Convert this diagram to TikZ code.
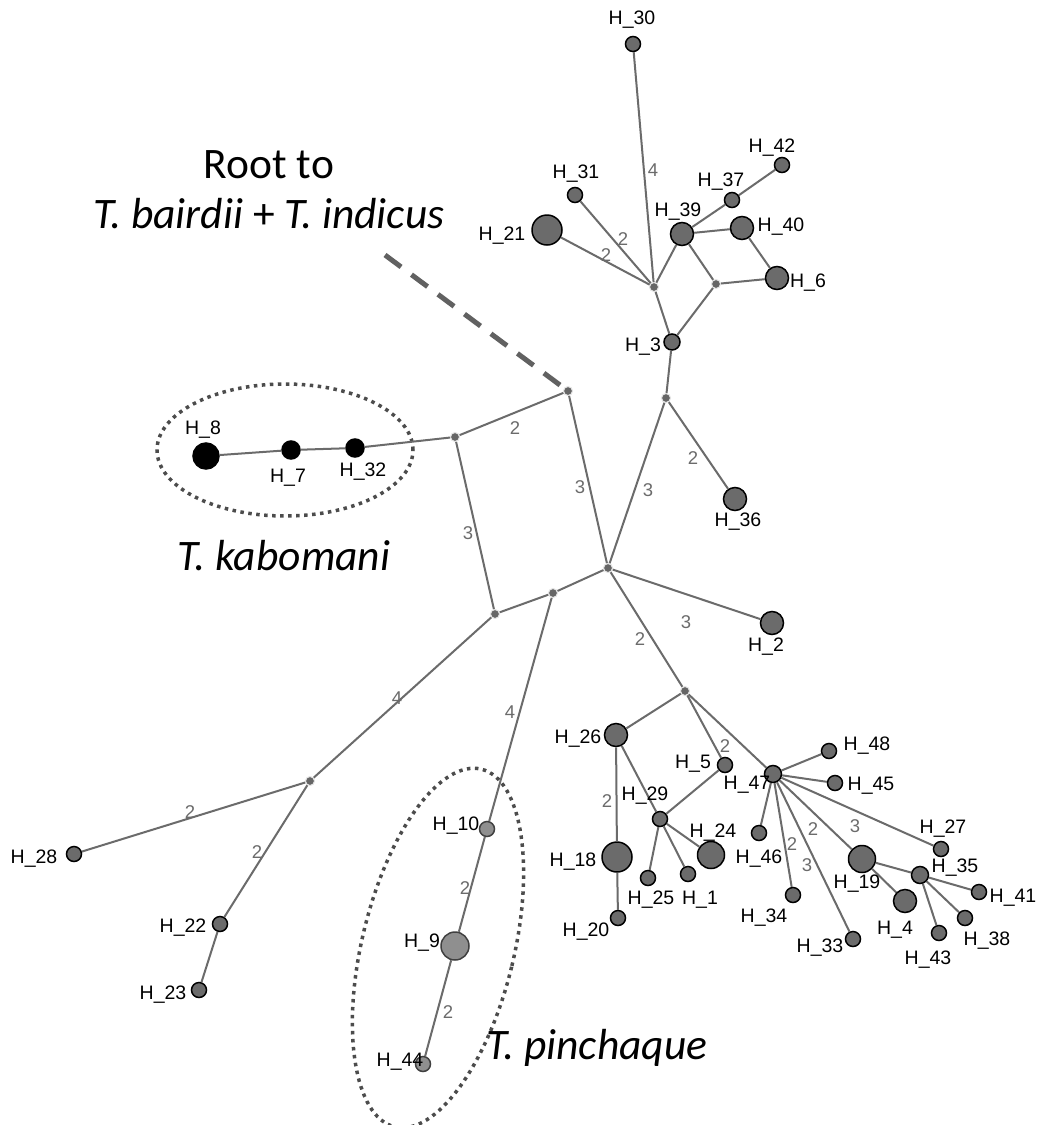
\documentclass[tikz,border=0pt]{standalone}
\usepackage{fontspec}
\setmainfont{Carlito}
\newfontfamily\labfont{Liberation Sans}

\definecolor{hapgrey}{gray}{0.42}
\definecolor{pingrey}{gray}{0.56}
\definecolor{linegrey}{gray}{0.42}
\definecolor{dotgrey}{gray}{0.3}

\tikzset{
	hap/.style={circle, draw=black, fill=hapgrey, line width=1.5pt, inner sep=0pt, minimum size=15pt},
	hm/.style={hap, minimum size=23pt},
	hb/.style={hap, minimum size=27pt},
	hl/.style={hap, minimum size=30pt},
	kab/.style={hap, fill=black, minimum size=18pt},
	pin/.style={hap, draw=black!75, fill=pingrey},
	med/.style={circle, draw=white!80!gray, fill=black!60, line width=1pt, inner sep=0pt, minimum size=9pt},
	edge/.style={draw=linegrey, line width=2pt},
	lab/.style={font=\labfont\fontsize{19.5}{21}\selectfont, inner sep=0pt},
	elab/.style={font=\labfont\fontsize{18.5}{20}\selectfont, text=linegrey, inner sep=0pt},
	group/.style={draw=dotgrey, line width=3.5pt, dash pattern=on 3.5pt off 4.5pt},
	rootline/.style={draw=black!62, line width=5pt, dash pattern=on 20pt off 13pt},
	species/.style={font=\fontsize{43.5}{50}\selectfont, inner sep=0pt, align=center}
}

\begin{document}
\begin{tikzpicture}[x=1pt, y=-1pt]
	\fill[white] (0,0) rectangle (1037,1125);
	\useasboundingbox (0,0) rectangle (1037,1125);

	% species groups
	\draw[group] (285,450) ellipse [x radius=128pt, y radius=66pt];
	\draw[group, rotate around={-13.6:(438,948)}] (438,948) ellipse [x radius=76pt, y radius=184pt];

	% median vectors
	\node[med] (mA) at (654,287) {};
	\node[med] (mB) at (716,284) {};
	\node[med] (mC) at (666,398) {};
	\node[med] (mD) at (568,391) {};
	\node[med] (mE) at (455,437) {};
	\node[med] (mF) at (608,568) {};
	\node[med] (mG) at (553,593) {};
	\node[med] (mH) at (495,614) {};
	\node[med] (mI) at (685,691) {};
	\node[med] (mJ) at (310,781) {};

	% haplotypes
	\node[hap] (h30) at (633,44) {};
	\node[hap] (h31) at (575,195) {};
	\node[hl] (h21) at (547,230) {};
	\node[hm] (h39) at (682,234) {};
	\node[hap] (h37) at (732,200) {};
	\node[hap] (h42) at (782,165) {};
	\node[hm] (h40) at (742,228) {};
	\node[hm] (h6) at (777,278) {};
	\node[hap, minimum size=16pt] (h3) at (672,342) {};
	\node[hm] (h36) at (735,499) {};
	\node[hm] (h2) at (772,623) {};
	\node[kab] (h32) at (355,448) {};
	\node[kab] (h7) at (291,450) {};
	\node[kab, minimum size=26pt] (h8) at (206,456) {};
	\node[hap] (h28) at (74,854) {};
	\node[hap] (h22) at (220,924) {};
	\node[hap] (h23) at (199,990) {};
	\node[pin] (h10) at (487,829) {};
	\node[pin, minimum size=28pt] (h9) at (455,946) {};
	\node[pin] (h44) at (423,1064) {};
	\node[hm] (h26) at (616,735) {};
	\node[hap] (h5) at (725,765) {};
	\node[hap, minimum size=17pt] (h47) at (773,774) {};
	\node[hap] (h29) at (660,819) {};
	\node[hb] (h24) at (711,855) {};
	\node[hl] (h18) at (617,857) {};
	\node[hap] (h25) at (648,878) {};
	\node[hap] (h1) at (688,874) {};
	\node[hap] (h20) at (618,918) {};
	\node[hap] (h46) at (759,833) {};
	\node[hap] (h34) at (793,895) {};
	\node[hap] (h33) at (853,939) {};
	\node[hap] (h48) at (829,751) {};
	\node[hap] (h45) at (835,783) {};
	\node[hap] (h27) at (941,849) {};
	\node[hb] (h19) at (862,859) {};
	\node[hap, minimum size=17pt] (h35) at (920,875) {};
	\node[hm] (h4) at (905,901) {};
	\node[hap] (h41) at (979,892) {};
	\node[hap] (h38) at (965,918) {};
	\node[hap] (h43) at (939,933) {};

	% connections
	\foreach \a/\b in {mA/h30, mA/h31, mA/h21, mA/h39, mA/h3, h39/h37, h37/h42, h39/h40,
		h40/h6, h39/mB, mB/h6, mB/h3, h3/mC, mC/h36, mC/mF, mD/mE, mD/mF, mE/h32,
		h32/h7, h7/h8, mE/mH, mH/mG, mG/mF, mF/h2, mF/mI, mH/mJ, mJ/h28, mJ/h22,
		h22/h23, mG/h10, h10/h9, h9/h44, mI/h26, mI/h5, mI/h47, h26/h18, h18/h20,
		h26/h29, h29/h5, h29/h25, h29/h1, h29/h24, h47/h48, h47/h45, h47/h46,
		h47/h34, h47/h33, h47/h19, h47/h27, h19/h4, h19/h35, h35/h41, h35/h38, h35/h43}
		\draw[edge] (\a) -- (\b);

	% root
	\coordinate (rootend) at (385,255);
	\draw[rootline] (rootend) -- (mD);

	% mutation steps
	\foreach \p/\n in {{(653,170)}/4, {(623,239)}/2, {(606,255)}/2, {(693,458)}/2,
		{(515,428)}/2, {(580,487)}/3, {(648,490)}/3, {(468,533)}/3, {(686,622)}/3,
		{(640,639)}/2, {(397,698)}/4, {(510,712)}/4, {(190,812)}/2, {(257,852)}/2,
		{(465,888)}/2, {(448,1012)}/2, {(725,746)}/2, {(607,801)}/2, {(792,844)}/2,
		{(807,865)}/3, {(813,829)}/2, {(855,826)}/3}
		\node[elab] at \p {\n};

	% haplotype names
	\foreach \p/\t in {{(632,20)}/30, {(576,174)}/31, {(502,236)}/21, {(678,212)}/39,
		{(721,182)}/37, {(772,148)}/42, {(781,227)}/40, {(808,283)}/6, {(643,347)}/3,
		{(738,522)}/36, {(363,472)}/32, {(288,478)}/7, {(203,430)}/8, {(766,647)}/2,
		{(34,859)}/28, {(183,928)}/22, {(163,995)}/23, {(456,826)}/10, {(422,943)}/9,
		{(400,1062)}/44, {(578,739)}/26, {(693,764)}/5, {(747,785)}/47, {(645,796)}/29,
		{(713,833)}/24, {(573,862)}/18, {(651,900)}/25, {(700,900)}/1, {(586,932)}/20,
		{(759,859)}/46, {(764,918)}/34, {(820,948)}/33, {(867,746)}/48, {(871,786)}/45,
		{(943,829)}/27, {(857,884)}/19, {(955,868)}/35, {(895,930)}/4, {(1013,898)}/41,
		{(987,941)}/38, {(928,960)}/43}
		\node[lab] (l\t) at \p {H\_\t};

	% species names
	\node[species] (root) at (269,190) {Root to\\ \itshape T. bairdii {\upshape+} T. indicus};
	\node[species, font=\fontsize{43.5}{50}\selectfont\itshape] (kabomani) at (284,556) {T. kabomani};
	\node[species, font=\fontsize{43.5}{50}\selectfont\itshape] (pinchaque) at (597,1048) {T. pinchaque};
\end{tikzpicture}
\end{document}
